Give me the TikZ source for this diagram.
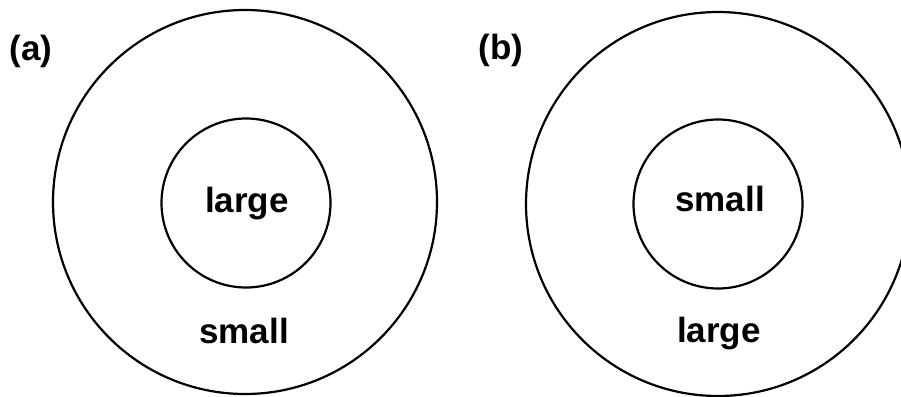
\documentclass[tikz,border=0pt]{standalone}
\usepackage{fontspec}
\setmainfont{Liberation Sans}
\begin{document}
\begin{tikzpicture}[x=1pt,y=-1pt,
  ring/.style={draw=black,line width=2.2pt,circle,inner sep=0pt},
  lbl/.style={font=\fontsize{35}{40}\selectfont\bfseries,anchor=base,inner sep=0pt},
  tag/.style={font=\fontsize{35}{40}\selectfont\bfseries,inner sep=0pt}]
\useasboundingbox (0,0) rectangle (901,396);
\clip (0,0) rectangle (901,396);
% (a)
\node[ring,minimum size=384pt] (aout) at (245,202) {};
\node[ring,minimum size=169pt] (ain) at (246,203) {};
\node[lbl] (alarge) at (247,212) {large};
\node[lbl] (asmall) at (244,343) {small};
\node[tag] (atag) at (31,51) {(a)};
% (b)
\node[ring,minimum size=384pt] (bout) at (718,204) {};
\node[ring,minimum size=169pt] (bin) at (718,204) {};
\node[lbl] (bsmall) at (720,211) {small};
\node[lbl] (blarge) at (719,342) {large};
\node[tag] (btag) at (501,50) {(b)};
\end{tikzpicture}
\end{document}
